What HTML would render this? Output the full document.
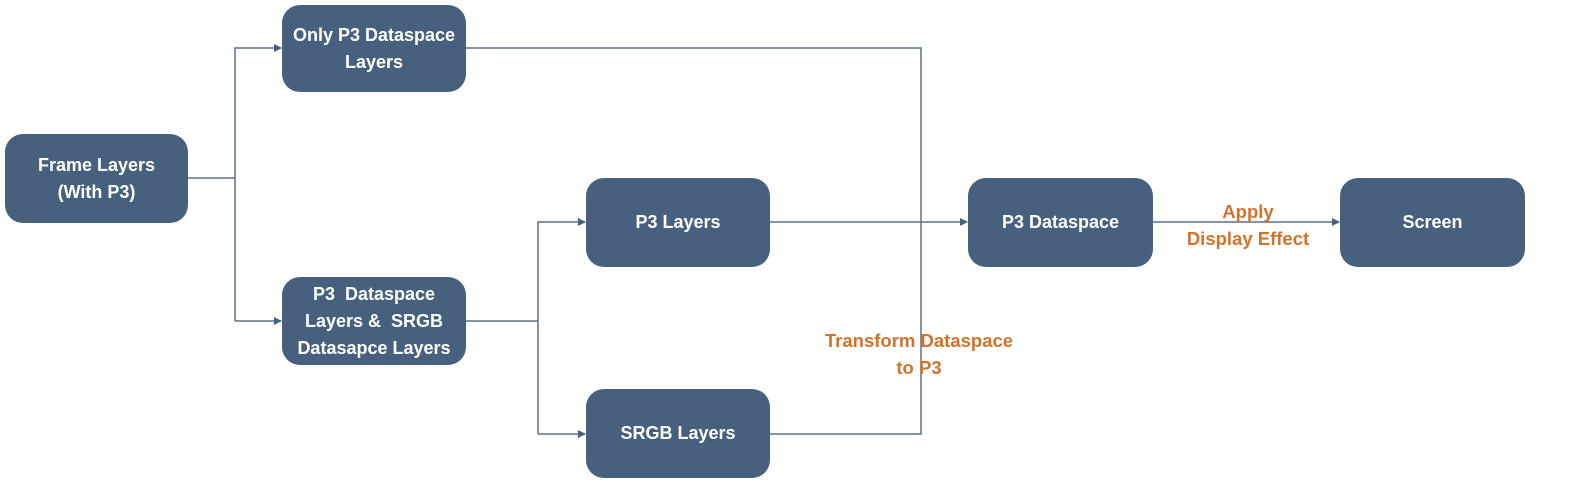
<!DOCTYPE html>
<html><head><meta charset="utf-8"><style>
html,body{margin:0;padding:0;background:#fff;}
body{width:1579px;height:495px;position:relative;overflow:hidden;font-family:"Liberation Sans",sans-serif;}
.b{position:absolute;background:#46607e;border-radius:18px;color:#fff;font-weight:bold;font-size:18px;line-height:27px;display:flex;align-items:center;justify-content:center;text-align:center;}
.o{position:absolute;color:#d0742a;font-weight:bold;font-size:18.5px;line-height:27px;text-align:center;}
svg{position:absolute;left:0;top:0;}
</style></head><body>
<svg width="1579" height="495">
<defs><marker id="a" markerWidth="8" markerHeight="8" refX="7" refY="4" orient="auto" markerUnits="userSpaceOnUse"><path d="M0,0 L8,4 L0,8 z" fill="#46607e"/></marker></defs>
<g stroke="#5a7089" stroke-width="1.5" fill="none">
<path d="M188,178 H235"/>
<path d="M235,321 V48 H281" marker-end="url(#a)"/>
<path d="M235,321 H281" marker-end="url(#a)"/>
<path d="M466,321 H538"/>
<path d="M538,434 V222 H585" marker-end="url(#a)"/>
<path d="M538,434 H585" marker-end="url(#a)"/>
<path d="M466,48 H921 V434 H770"/>
<path d="M770,222 H967" marker-end="url(#a)"/>
<path d="M1153,222 H1339" marker-end="url(#a)"/>
</g></svg>
<div class="b" style="left:5px;top:134px;width:183px;height:89px;">Frame Layers<br>(With P3)</div>
<div class="b" style="left:282px;top:5px;width:184px;height:87px;">Only P3 Dataspace<br>Layers</div>
<div class="b" style="left:282px;top:277px;width:184px;height:88px;">P3&nbsp; Dataspace<br>Layers &amp;&nbsp; SRGB<br>Datasapce Layers</div>
<div class="b" style="left:586px;top:178px;width:184px;height:89px;">P3 Layers</div>
<div class="b" style="left:586px;top:389px;width:184px;height:89px;">SRGB Layers</div>
<div class="b" style="left:968px;top:178px;width:185px;height:89px;">P3 Dataspace</div>
<div class="b" style="left:1340px;top:178px;width:185px;height:89px;">Screen</div>
<div class="o" style="left:1148px;top:198px;width:200px;">Apply<br>Display Effect</div>
<div class="o" style="left:809px;top:327px;width:220px;">Transform Dataspace<br>to P3</div>
</body></html>
